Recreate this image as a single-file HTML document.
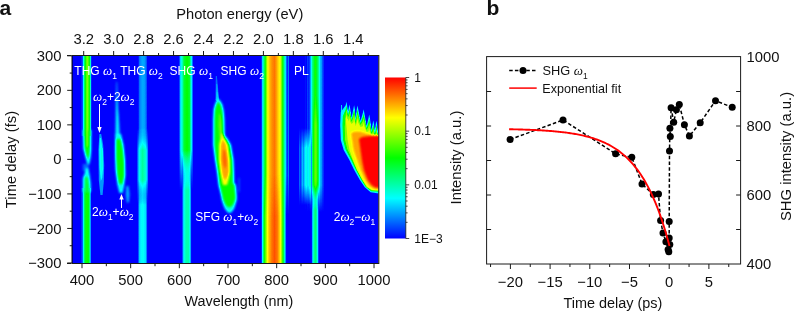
<!DOCTYPE html><html><head><meta charset="utf-8"><style>html,body{margin:0;padding:0;background:#fff;width:795px;height:312px;overflow:hidden}svg{display:block;will-change:transform}</style></head><body><svg width="795" height="312" viewBox="0 0 795 312">
<defs><linearGradient id="b800" gradientUnits="userSpaceOnUse" x1="260.8" y1="0" x2="289.5" y2="0"><stop offset="0.0000" stop-color="rgb(0,0,0)"/><stop offset="0.0314" stop-color="rgb(15,15,15)"/><stop offset="0.0662" stop-color="rgb(64,64,64)"/><stop offset="0.1568" stop-color="rgb(128,128,128)"/><stop offset="0.2439" stop-color="rgb(191,191,191)"/><stop offset="0.3171" stop-color="rgb(209,209,209)"/><stop offset="0.3868" stop-color="rgb(219,219,219)"/><stop offset="0.4774" stop-color="rgb(226,226,226)"/><stop offset="0.5470" stop-color="rgb(215,215,215)"/><stop offset="0.6098" stop-color="rgb(201,201,201)"/><stop offset="0.6725" stop-color="rgb(191,191,191)"/><stop offset="0.7631" stop-color="rgb(128,128,128)"/><stop offset="0.8537" stop-color="rgb(64,64,64)"/><stop offset="0.8955" stop-color="rgb(26,26,26)"/><stop offset="0.9233" stop-color="rgb(8,8,8)"/><stop offset="0.9443" stop-color="rgb(15,15,15)"/><stop offset="0.9617" stop-color="rgb(33,33,33)"/><stop offset="0.9791" stop-color="rgb(13,13,13)"/><stop offset="1.0000" stop-color="rgb(0,0,0)"/></linearGradient><linearGradient id="b800mg" gradientUnits="userSpaceOnUse" x1="0" y1="56" x2="0" y2="263"><stop offset="0.0000" stop-color="rgb(255,255,255)"/><stop offset="0.5749" stop-color="rgb(255,255,255)"/><stop offset="0.7681" stop-color="rgb(0,0,0)"/><stop offset="1.0000" stop-color="rgb(0,0,0)"/></linearGradient><mask id="b800m" maskUnits="userSpaceOnUse" x="255.8" y="51" width="38.69999999999999" height="217"><rect x="255.8" y="51" width="38.69999999999999" height="217" fill="url(#b800mg)"/></mask><linearGradient id="b800b" gradientUnits="userSpaceOnUse" x1="260.8" y1="0" x2="286.6" y2="0"><stop offset="0.0000" stop-color="rgb(0,0,0)"/><stop offset="0.0349" stop-color="rgb(15,15,15)"/><stop offset="0.0659" stop-color="rgb(64,64,64)"/><stop offset="0.1357" stop-color="rgb(128,128,128)"/><stop offset="0.2597" stop-color="rgb(191,191,191)"/><stop offset="0.3256" stop-color="rgb(209,209,209)"/><stop offset="0.4147" stop-color="rgb(224,224,224)"/><stop offset="0.5310" stop-color="rgb(235,235,235)"/><stop offset="0.6473" stop-color="rgb(224,224,224)"/><stop offset="0.7248" stop-color="rgb(204,204,204)"/><stop offset="0.7674" stop-color="rgb(191,191,191)"/><stop offset="0.8605" stop-color="rgb(128,128,128)"/><stop offset="0.9380" stop-color="rgb(64,64,64)"/><stop offset="0.9690" stop-color="rgb(20,20,20)"/><stop offset="1.0000" stop-color="rgb(0,0,0)"/></linearGradient><linearGradient id="thg1" gradientUnits="userSpaceOnUse" x1="81.2" y1="0" x2="91.8" y2="0"><stop offset="0.0000" stop-color="rgb(0,0,0)"/><stop offset="0.0566" stop-color="rgb(20,20,20)"/><stop offset="0.1038" stop-color="rgb(8,8,8)"/><stop offset="0.1604" stop-color="rgb(38,38,38)"/><stop offset="0.2264" stop-color="rgb(69,69,69)"/><stop offset="0.3396" stop-color="rgb(115,115,115)"/><stop offset="0.5660" stop-color="rgb(163,163,163)"/><stop offset="0.7642" stop-color="rgb(133,133,133)"/><stop offset="0.8679" stop-color="rgb(84,84,84)"/><stop offset="0.9528" stop-color="rgb(20,20,20)"/><stop offset="1.0000" stop-color="rgb(0,0,0)"/></linearGradient><linearGradient id="thg1b" gradientUnits="userSpaceOnUse" x1="81.2" y1="0" x2="91.4" y2="0"><stop offset="0.0000" stop-color="rgb(0,0,0)"/><stop offset="0.0588" stop-color="rgb(26,26,26)"/><stop offset="0.1078" stop-color="rgb(13,13,13)"/><stop offset="0.1667" stop-color="rgb(43,43,43)"/><stop offset="0.2353" stop-color="rgb(71,71,71)"/><stop offset="0.3529" stop-color="rgb(115,115,115)"/><stop offset="0.5490" stop-color="rgb(133,133,133)"/><stop offset="0.7647" stop-color="rgb(122,122,122)"/><stop offset="0.8627" stop-color="rgb(76,76,76)"/><stop offset="0.9412" stop-color="rgb(20,20,20)"/><stop offset="1.0000" stop-color="rgb(0,0,0)"/></linearGradient><linearGradient id="thg2" gradientUnits="userSpaceOnUse" x1="138.2" y1="0" x2="147.4" y2="0"><stop offset="0.0000" stop-color="rgb(0,0,0)"/><stop offset="0.1087" stop-color="rgb(26,26,26)"/><stop offset="0.3043" stop-color="rgb(38,38,38)"/><stop offset="0.5217" stop-color="rgb(43,43,43)"/><stop offset="0.7391" stop-color="rgb(38,38,38)"/><stop offset="0.9130" stop-color="rgb(20,20,20)"/><stop offset="1.0000" stop-color="rgb(0,0,0)"/></linearGradient><linearGradient id="thg2mg" gradientUnits="userSpaceOnUse" x1="0" y1="56" x2="0" y2="263"><stop offset="0.0000" stop-color="rgb(255,255,255)"/><stop offset="0.3575" stop-color="rgb(255,255,255)"/><stop offset="0.4541" stop-color="rgb(0,0,0)"/><stop offset="1.0000" stop-color="rgb(0,0,0)"/></linearGradient><mask id="thg2m" maskUnits="userSpaceOnUse" x="133.2" y="51" width="19.200000000000017" height="217"><rect x="133.2" y="51" width="19.200000000000017" height="217" fill="url(#thg2mg)"/></mask><linearGradient id="thg2c" gradientUnits="userSpaceOnUse" x1="136.8" y1="0" x2="148.6" y2="0"><stop offset="0.0000" stop-color="rgb(0,0,0)"/><stop offset="0.0847" stop-color="rgb(31,31,31)"/><stop offset="0.2288" stop-color="rgb(69,69,69)"/><stop offset="0.4831" stop-color="rgb(89,89,89)"/><stop offset="0.7373" stop-color="rgb(76,76,76)"/><stop offset="0.9068" stop-color="rgb(38,38,38)"/><stop offset="1.0000" stop-color="rgb(0,0,0)"/></linearGradient><linearGradient id="thg2cmg" gradientUnits="userSpaceOnUse" x1="0" y1="56" x2="0" y2="263"><stop offset="0.0000" stop-color="rgb(0,0,0)"/><stop offset="0.3478" stop-color="rgb(0,0,0)"/><stop offset="0.4541" stop-color="rgb(255,255,255)"/><stop offset="0.5990" stop-color="rgb(255,255,255)"/><stop offset="0.7198" stop-color="rgb(0,0,0)"/><stop offset="1.0000" stop-color="rgb(0,0,0)"/></linearGradient><mask id="thg2cm" maskUnits="userSpaceOnUse" x="131.8" y="51" width="21.799999999999983" height="217"><rect x="131.8" y="51" width="21.799999999999983" height="217" fill="url(#thg2cmg)"/></mask><linearGradient id="thg2b" gradientUnits="userSpaceOnUse" x1="137.8" y1="0" x2="147.6" y2="0"><stop offset="0.0000" stop-color="rgb(0,0,0)"/><stop offset="0.0816" stop-color="rgb(26,26,26)"/><stop offset="0.1837" stop-color="rgb(56,56,56)"/><stop offset="0.4796" stop-color="rgb(66,66,66)"/><stop offset="0.7959" stop-color="rgb(56,56,56)"/><stop offset="0.9184" stop-color="rgb(26,26,26)"/><stop offset="1.0000" stop-color="rgb(0,0,0)"/></linearGradient><linearGradient id="thg2bmg" gradientUnits="userSpaceOnUse" x1="0" y1="56" x2="0" y2="263"><stop offset="0.0000" stop-color="rgb(0,0,0)"/><stop offset="0.5990" stop-color="rgb(0,0,0)"/><stop offset="0.7198" stop-color="rgb(255,255,255)"/><stop offset="1.0000" stop-color="rgb(255,255,255)"/></linearGradient><mask id="thg2bm" maskUnits="userSpaceOnUse" x="132.8" y="51" width="19.799999999999983" height="217"><rect x="132.8" y="51" width="19.799999999999983" height="217" fill="url(#thg2bmg)"/></mask><linearGradient id="shg1" gradientUnits="userSpaceOnUse" x1="179" y1="0" x2="193.2" y2="0"><stop offset="0.0000" stop-color="rgb(0,0,0)"/><stop offset="0.0563" stop-color="rgb(31,31,31)"/><stop offset="0.1268" stop-color="rgb(64,64,64)"/><stop offset="0.2254" stop-color="rgb(76,76,76)"/><stop offset="0.3521" stop-color="rgb(115,115,115)"/><stop offset="0.5634" stop-color="rgb(128,128,128)"/><stop offset="0.7394" stop-color="rgb(117,117,117)"/><stop offset="0.8451" stop-color="rgb(76,76,76)"/><stop offset="0.9366" stop-color="rgb(38,38,38)"/><stop offset="1.0000" stop-color="rgb(0,0,0)"/></linearGradient><linearGradient id="shg1mg" gradientUnits="userSpaceOnUse" x1="0" y1="56" x2="0" y2="263"><stop offset="0.0000" stop-color="rgb(255,255,255)"/><stop offset="0.4541" stop-color="rgb(255,255,255)"/><stop offset="0.6473" stop-color="rgb(0,0,0)"/><stop offset="1.0000" stop-color="rgb(0,0,0)"/></linearGradient><mask id="shg1m" maskUnits="userSpaceOnUse" x="174" y="51" width="24.19999999999999" height="217"><rect x="174" y="51" width="24.19999999999999" height="217" fill="url(#shg1mg)"/></mask><linearGradient id="shg1b" gradientUnits="userSpaceOnUse" x1="182" y1="0" x2="191.6" y2="0"><stop offset="0.0000" stop-color="rgb(0,0,0)"/><stop offset="0.0833" stop-color="rgb(31,31,31)"/><stop offset="0.1875" stop-color="rgb(64,64,64)"/><stop offset="0.4167" stop-color="rgb(84,84,84)"/><stop offset="0.6771" stop-color="rgb(84,84,84)"/><stop offset="0.8333" stop-color="rgb(64,64,64)"/><stop offset="0.9271" stop-color="rgb(26,26,26)"/><stop offset="1.0000" stop-color="rgb(0,0,0)"/></linearGradient><linearGradient id="shg1bmg" gradientUnits="userSpaceOnUse" x1="0" y1="56" x2="0" y2="263"><stop offset="0.0000" stop-color="rgb(0,0,0)"/><stop offset="0.4541" stop-color="rgb(0,0,0)"/><stop offset="0.6473" stop-color="rgb(255,255,255)"/><stop offset="1.0000" stop-color="rgb(255,255,255)"/></linearGradient><mask id="shg1bm" maskUnits="userSpaceOnUse" x="177" y="51" width="19.599999999999994" height="217"><rect x="177" y="51" width="19.599999999999994" height="217" fill="url(#shg1bmg)"/></mask><linearGradient id="pl" gradientUnits="userSpaceOnUse" x1="304.6" y1="0" x2="324.2" y2="0"><stop offset="0.0000" stop-color="rgb(0,0,0)"/><stop offset="0.0255" stop-color="rgb(20,20,20)"/><stop offset="0.0510" stop-color="rgb(0,0,0)"/><stop offset="0.1327" stop-color="rgb(0,0,0)"/><stop offset="0.1531" stop-color="rgb(20,20,20)"/><stop offset="0.1735" stop-color="rgb(8,8,8)"/><stop offset="0.2347" stop-color="rgb(8,8,8)"/><stop offset="0.2806" stop-color="rgb(31,31,31)"/><stop offset="0.3418" stop-color="rgb(56,56,56)"/><stop offset="0.3980" stop-color="rgb(92,92,92)"/><stop offset="0.5510" stop-color="rgb(133,133,133)"/><stop offset="0.6837" stop-color="rgb(102,102,102)"/><stop offset="0.7500" stop-color="rgb(71,71,71)"/><stop offset="0.8112" stop-color="rgb(46,46,46)"/><stop offset="0.8878" stop-color="rgb(36,36,36)"/><stop offset="0.9286" stop-color="rgb(13,13,13)"/><stop offset="0.9541" stop-color="rgb(5,5,5)"/><stop offset="0.9745" stop-color="rgb(20,20,20)"/><stop offset="1.0000" stop-color="rgb(0,0,0)"/></linearGradient><linearGradient id="plm1g" gradientUnits="userSpaceOnUse" x1="0" y1="56" x2="0" y2="263"><stop offset="0.0000" stop-color="rgb(255,255,255)"/><stop offset="0.6232" stop-color="rgb(255,255,255)"/><stop offset="0.7536" stop-color="rgb(0,0,0)"/><stop offset="1.0000" stop-color="rgb(0,0,0)"/></linearGradient><mask id="plm1" maskUnits="userSpaceOnUse" x="299.6" y="51" width="29.599999999999966" height="217"><rect x="299.6" y="51" width="29.599999999999966" height="217" fill="url(#plm1g)"/></mask><linearGradient id="plc" gradientUnits="userSpaceOnUse" x1="312" y1="0" x2="319.5" y2="0"><stop offset="0" stop-color="rgb(153,153,153)" stop-opacity="0"/><stop offset="0.5" stop-color="rgb(153,153,153)" stop-opacity="1"/><stop offset="1" stop-color="rgb(153,153,153)" stop-opacity="0"/></linearGradient><linearGradient id="plcmg" gradientUnits="userSpaceOnUse" x1="0" y1="56" x2="0" y2="263"><stop offset="0.0000" stop-color="rgb(0,0,0)"/><stop offset="0.1884" stop-color="rgb(0,0,0)"/><stop offset="0.3333" stop-color="rgb(255,255,255)"/><stop offset="0.5990" stop-color="rgb(255,255,255)"/><stop offset="0.6957" stop-color="rgb(0,0,0)"/><stop offset="1.0000" stop-color="rgb(0,0,0)"/></linearGradient><mask id="plcm" maskUnits="userSpaceOnUse" x="307" y="51" width="17.5" height="217"><rect x="307" y="51" width="17.5" height="217" fill="url(#plcmg)"/></mask><linearGradient id="plw" gradientUnits="userSpaceOnUse" x1="298.5" y1="0" x2="311.8" y2="0"><stop offset="0.0000" stop-color="rgb(0,0,0)"/><stop offset="0.0752" stop-color="rgb(26,26,26)"/><stop offset="0.1729" stop-color="rgb(10,10,10)"/><stop offset="0.2782" stop-color="rgb(51,51,51)"/><stop offset="0.3684" stop-color="rgb(33,33,33)"/><stop offset="0.4887" stop-color="rgb(59,59,59)"/><stop offset="0.6015" stop-color="rgb(69,69,69)"/><stop offset="0.7068" stop-color="rgb(54,54,54)"/><stop offset="0.8045" stop-color="rgb(71,71,71)"/><stop offset="0.8947" stop-color="rgb(76,76,76)"/><stop offset="0.9549" stop-color="rgb(64,64,64)"/><stop offset="1.0000" stop-color="rgb(0,0,0)"/></linearGradient><linearGradient id="plwmg" gradientUnits="userSpaceOnUse" x1="0" y1="56" x2="0" y2="263"><stop offset="0.0000" stop-color="rgb(0,0,0)"/><stop offset="0.3478" stop-color="rgb(0,0,0)"/><stop offset="0.4444" stop-color="rgb(255,255,255)"/><stop offset="0.6232" stop-color="rgb(255,255,255)"/><stop offset="0.7198" stop-color="rgb(0,0,0)"/><stop offset="1.0000" stop-color="rgb(0,0,0)"/></linearGradient><mask id="plwm" maskUnits="userSpaceOnUse" x="293.5" y="51" width="23.30000000000001" height="217"><rect x="293.5" y="51" width="23.30000000000001" height="217" fill="url(#plwmg)"/></mask><linearGradient id="plb" gradientUnits="userSpaceOnUse" x1="311.4" y1="0" x2="318.9" y2="0"><stop offset="0.0000" stop-color="rgb(0,0,0)"/><stop offset="0.1067" stop-color="rgb(38,38,38)"/><stop offset="0.2800" stop-color="rgb(76,76,76)"/><stop offset="0.5067" stop-color="rgb(102,102,102)"/><stop offset="0.7467" stop-color="rgb(82,82,82)"/><stop offset="0.9067" stop-color="rgb(31,31,31)"/><stop offset="1.0000" stop-color="rgb(0,0,0)"/></linearGradient><linearGradient id="plbmg" gradientUnits="userSpaceOnUse" x1="0" y1="56" x2="0" y2="263"><stop offset="0.0000" stop-color="rgb(0,0,0)"/><stop offset="0.6232" stop-color="rgb(0,0,0)"/><stop offset="0.7440" stop-color="rgb(255,255,255)"/><stop offset="1.0000" stop-color="rgb(255,255,255)"/></linearGradient><mask id="plbm" maskUnits="userSpaceOnUse" x="306.4" y="51" width="17.5" height="217"><rect x="306.4" y="51" width="17.5" height="217" fill="url(#plbmg)"/></mask><filter id="jet" x="0" y="0" width="1" height="1" color-interpolation-filters="sRGB"><feComponentTransfer><feFuncR type="table" tableValues="0 0 0 1 1"/><feFuncG type="table" tableValues="0 1 1 1 0"/><feFuncB type="table" tableValues="1 1 0 0 0"/></feComponentTransfer></filter><filter id="bl0_6" x="-50%" y="-50%" width="200%" height="200%" color-interpolation-filters="sRGB"><feGaussianBlur stdDeviation="0.6"/></filter><filter id="bl0_7" x="-50%" y="-50%" width="200%" height="200%" color-interpolation-filters="sRGB"><feGaussianBlur stdDeviation="0.7"/></filter><filter id="bl0_8" x="-50%" y="-50%" width="200%" height="200%" color-interpolation-filters="sRGB"><feGaussianBlur stdDeviation="0.8"/></filter><filter id="bl0_9" x="-50%" y="-50%" width="200%" height="200%" color-interpolation-filters="sRGB"><feGaussianBlur stdDeviation="0.9"/></filter><filter id="bl1_0" x="-50%" y="-50%" width="200%" height="200%" color-interpolation-filters="sRGB"><feGaussianBlur stdDeviation="1.0"/></filter><filter id="bl1_5" x="-50%" y="-50%" width="200%" height="200%" color-interpolation-filters="sRGB"><feGaussianBlur stdDeviation="1.5"/></filter><filter id="bl2" x="-50%" y="-50%" width="200%" height="200%" color-interpolation-filters="sRGB"><feGaussianBlur stdDeviation="2"/></filter><filter id="bl3" x="-50%" y="-50%" width="200%" height="200%" color-interpolation-filters="sRGB"><feGaussianBlur stdDeviation="3"/></filter><clipPath id="hc"><rect x="72" y="56" width="306.6" height="207"/></clipPath></defs>
<rect width="795" height="312" fill="#fff"/>
<g clip-path="url(#hc)"><g filter="url(#jet)">
<rect x="72" y="56" width="306.6" height="207" fill="#000"/>
<rect x="260.8" y="56" width="25.80" height="207.00" fill="url(#b800b)"/><rect x="260.8" y="56" width="28.70" height="207.00" fill="url(#b800)" mask="url(#b800m)"/><rect x="81.2" y="56" width="10.60" height="80.00" fill="url(#thg1)"/><rect x="81.2" y="188" width="10.20" height="75.00" fill="url(#thg1b)"/><g filter="url(#bl0_8)"><path d="M82.9,130.0 L91.3,130.0 L91.2,150.0 L90.7,157.0 L89.9,162.0 L88.4,166.0 L87.0,163.0 L85.5,157.0 L83.5,149.0 Z" fill="rgb(69,69,69)"/><path d="M84.6,130.0 L89.8,130.0 L89.7,150.0 L89.1,156.0 L88.0,159.0 L86.4,155.0 L84.7,148.0 Z" fill="rgb(128,128,128)"/><path d="M85.4,130.0 L88.8,130.0 L88.6,147.0 L86.2,147.0 Z" fill="rgb(158,158,158)"/><path d="M82.8,164.0 L88.5,164.0 L88.8,171.0 L82.8,171.0 Z" fill="rgb(26,26,26)"/><path d="M86.0,168.0 L88.2,168.0 L89.8,176.0 L90.7,184.0 L90.8,192.0 L82.9,192.0 L82.9,178.0 L84.5,174.0 Z" fill="rgb(69,69,69)"/><path d="M85.0,177.0 L87.8,177.0 L89.1,186.0 L89.1,193.0 L84.6,193.0 Z" fill="rgb(115,115,115)"/></g><g filter="url(#bl0_7)"><path d="M99.4,134.0 L101.2,134.0 L103.2,145.0 L104.2,165.0 L103.8,182.0 L102.6,195.0 L100.4,195.0 L98.8,180.0 L98.4,150.0 Z" fill="rgb(38,38,38)"/><path d="M99.8,138.0 L101.0,138.0 L102.9,152.0 L103.2,168.0 L102.2,178.0 L100.8,181.0 L99.6,168.0 L99.2,150.0 Z" fill="rgb(64,64,64)"/><path d="M101.2,148.0 L102.4,148.0 L102.6,165.0 L101.6,172.0 L101.2,160.0 Z" fill="rgb(74,74,74)"/></g><g filter="url(#bl0_8)"><path d="M116.2,82.0 L117.2,82.0 L118.2,110.0 L120.5,136.0 L115.2,136.0 L115.6,110.0 Z" fill="rgb(36,36,36)"/><path d="M116.5,96.0 L117.3,96.0 L118.6,120.0 L118.6,136.0 L115.8,136.0 L116.2,118.0 Z" fill="rgb(64,64,64)"/><path d="M115.3,134.0 L121.0,134.0 L123.5,145.0 L125.0,160.0 L125.4,175.0 L124.0,186.0 L122.5,193.0 L119.5,193.0 L117.5,185.0 L115.6,170.0 L115.2,150.0 Z" fill="rgb(69,69,69)"/><path d="M116.3,139.0 L120.5,139.0 L122.8,150.0 L124.0,163.0 L124.0,176.0 L122.3,184.0 L119.2,184.0 L117.4,175.0 L116.2,158.0 Z" fill="rgb(128,128,128)"/><path d="M126.2,186.0 L128.6,186.0 L129.6,194.0 L129.0,202.0 L127.0,203.0 L125.8,195.0 Z" fill="rgb(43,43,43)"/></g><rect x="138.2" y="56" width="9.20" height="99.00" fill="url(#thg2)" mask="url(#thg2m)"/><rect x="136.8" y="125" width="11.80" height="85.00" fill="url(#thg2c)" mask="url(#thg2cm)"/><rect x="137.8" y="175" width="9.80" height="88.00" fill="url(#thg2b)" mask="url(#thg2bm)"/><rect x="179" y="56" width="14.20" height="139.00" fill="url(#shg1)" mask="url(#shg1m)"/><rect x="182" y="145" width="9.60" height="118.00" fill="url(#shg1b)" mask="url(#shg1bm)"/><g filter="url(#bl0_6)"><path d="M215.8,76.0 L216.9,76.0 L219.2,100.0 L215.4,100.0 Z" fill="rgb(26,26,26)"/><path d="M216.3,84.0 L217.2,84.0 L218.9,100.0 L215.9,100.0 Z" fill="rgb(41,41,41)"/><path d="M216.6,92.0 L217.6,92.0 L218.8,101.0 L216.2,101.0 Z" fill="rgb(51,51,51)"/></g><g filter="url(#bl0_9)"><path d="M238.6,178.0 L239.6,178.0 L239.6,192.0 L238.6,192.0 Z" fill="rgb(31,31,31)"/><path d="M217.6,98.5 L215.2,103.5 L213.7,109.0 L213.2,120.0 L213.2,145.0 L215.1,160.0 L217.0,172.0 L218.5,185.0 L220.9,195.0 L221.8,200.0 L223.3,205.0 L225.0,209.0 L228.0,212.8 L231.0,212.8 L234.0,209.0 L235.3,205.0 L236.7,200.0 L236.7,195.0 L235.8,185.0 L234.2,183.0 L234.0,172.0 L233.5,160.0 L231.0,145.0 L227.5,138.5 L224.8,135.5 L224.5,120.0 L223.8,111.0 L222.4,104.5 L219.8,100.0 Z" fill="rgb(69,69,69)"/><path d="M217.8,102.0 L216.2,106.0 L214.9,111.0 L214.6,120.0 L214.6,145.0 L216.3,160.0 L218.2,172.0 L219.8,185.0 L222.3,195.0 L223.2,199.0 L224.8,203.0 L227.0,206.5 L229.5,207.5 L232.0,206.0 L233.8,203.0 L235.2,199.0 L235.2,195.0 L234.3,185.0 L232.8,183.0 L232.6,172.0 L232.1,160.0 L229.6,145.0 L226.2,139.5 L223.2,136.5 L223.0,120.0 L222.2,111.0 L221.0,106.0 L219.4,103.0 Z" fill="rgb(128,128,128)"/><path d="M219.2,114.0 L220.6,114.0 L222.0,125.0 L223.0,137.0 L219.6,137.0 L218.6,125.0 Z" fill="rgb(153,153,153)"/><path d="M221.5,133.0 L220.0,140.0 L219.0,145.0 L219.0,160.0 L220.3,172.0 L221.8,180.0 L223.0,185.0 L227.0,185.0 L228.5,180.0 L230.0,172.0 L230.0,160.0 L228.0,145.0 L225.0,139.0 L223.0,134.0 Z" fill="rgb(191,191,191)"/><path d="M222.5,140.0 L221.0,145.0 L220.5,160.0 L222.0,172.0 L223.5,178.0 L225.5,180.0 L228.0,176.0 L229.0,172.0 L228.0,160.0 L226.0,145.0 L224.0,141.0 Z" fill="rgb(214,214,214)"/><path d="M223.2,150.0 L225.2,150.0 L226.6,158.0 L226.6,166.0 L225.0,169.0 L223.2,164.0 L222.6,157.0 Z" fill="rgb(230,230,230)"/></g><rect x="304.6" y="56" width="19.60" height="159.00" fill="url(#pl)" mask="url(#plm1)"/><rect x="312" y="90" width="7.50" height="115.00" fill="url(#plc)" mask="url(#plcm)"/><rect x="298.5" y="125" width="13.30" height="85.00" fill="url(#plw)" mask="url(#plwm)"/><rect x="311.4" y="180" width="7.50" height="83.00" fill="url(#plb)" mask="url(#plbm)"/><g filter="url(#bl0_5)"><path d="M341.0,105.0 L342.0,105.0 L342.8,128.0 L340.8,128.0 Z" fill="rgb(51,51,51)"/><path d="M340.8,112.0 L345.7,105.3 L346.4,101.8 L347.1,105.3 L348.0,113.0 L348.7,108.1 L349.4,104.6 L350.1,108.1 L351.6,118.0 L353.4,108.8 L354.1,105.3 L354.8,108.8 L355.7,120.0 L356.8,108.9 L357.5,105.4 L358.2,108.9 L360.5,121.0 L362.9,112.7 L363.6,109.2 L364.3,112.7 L366.6,126.0 L368.5,118.1 L369.2,114.6 L369.9,118.1 L371.4,130.0 L372.6,124.0 L373.3,120.5 L374.0,124.0 L375.0,134.0 L375.7,124.3 L376.4,120.8 L377.1,124.3 L377.8,135.0 L382.0,135.0 L382.0,193.8 L370.6,192.2 L364.8,187.2 L360.0,180.2 L354.2,170.0 L349.4,160.0 L343.7,150.0 L340.8,140.0 L340.2,125.0 Z" fill="rgb(61,61,61)"/><path d="M342.8,116.0 L345.7,109.3 L346.4,105.8 L347.1,109.3 L348.0,115.0 L348.7,112.1 L349.4,108.6 L350.1,112.1 L351.6,120.0 L353.4,112.8 L354.1,109.3 L354.8,112.8 L355.7,122.0 L356.8,112.9 L357.5,109.4 L358.2,112.9 L360.5,123.0 L362.9,116.7 L363.6,113.2 L364.3,116.7 L366.6,128.0 L368.5,122.1 L369.2,118.6 L369.9,122.1 L371.4,132.0 L372.6,128.0 L373.3,124.5 L374.0,128.0 L375.0,136.0 L375.7,128.3 L376.4,124.8 L377.1,128.3 L377.8,137.0 L382.0,137.0 L382.0,192.0 L371.0,191.2 L365.5,186.8 L361.0,179.5 L355.6,169.5 L350.8,159.5 L345.5,149.5 L343.0,140.0 L342.4,125.0 Z" fill="rgb(122,122,122)"/><path d="M345.0,122.0 L345.7,113.3 L346.4,109.8 L347.1,113.3 L348.0,117.0 L348.7,116.1 L349.4,112.6 L350.1,116.1 L351.6,122.0 L353.4,116.8 L354.1,113.3 L354.8,116.8 L355.7,124.0 L356.8,116.9 L357.5,113.4 L358.2,116.9 L360.5,125.0 L362.9,120.7 L363.6,117.2 L364.3,120.7 L366.6,130.0 L368.5,126.1 L369.2,122.6 L369.9,126.1 L371.4,134.0 L372.6,132.0 L373.3,128.5 L374.0,132.0 L375.0,138.0 L375.7,132.3 L376.4,128.8 L377.1,132.3 L377.8,139.0 L382.0,139.0 L382.0,191.0 L371.5,190.5 L366.2,186.5 L361.8,179.0 L356.5,169.0 L352.0,159.0 L347.2,149.0 L345.0,140.0 L344.6,127.0 Z" fill="rgb(161,161,161)"/><path d="M346.4,126.0 L345.7,118.8 L346.4,114.8 L347.1,118.8 L348.0,119.0 L348.7,121.6 L349.4,117.6 L350.1,121.6 L351.6,124.0 L353.4,122.3 L354.1,118.3 L354.8,122.3 L355.7,126.0 L356.8,122.4 L357.5,118.4 L358.2,122.4 L360.5,127.0 L362.9,126.2 L363.6,122.2 L364.3,126.2 L366.6,132.0 L368.5,131.6 L369.2,127.6 L369.9,131.6 L371.4,136.0 L372.6,137.5 L373.3,133.5 L374.0,137.5 L375.0,140.0 L375.7,137.8 L376.4,133.8 L377.1,137.8 L377.8,141.0 L382.0,141.0 L382.0,190.5 L372.0,190.0 L367.0,187.0 L362.5,180.0 L357.0,170.0 L353.0,160.0 L349.5,150.0 L347.6,140.0 Z" fill="rgb(186,186,186)"/></g><g filter="url(#bl0_8)"><path d="M351.0,133.0 L355.0,131.5 L360.0,131.5 L366.0,133.5 L371.0,135.0 L382.0,135.0 L382.0,189.5 L374.0,189.0 L369.0,186.0 L365.0,180.0 L360.5,170.0 L357.0,160.0 L353.5,150.0 L352.0,140.0 Z" fill="rgb(214,214,214)"/><path d="M359.0,139.0 L362.0,137.0 L370.0,136.0 L382.0,135.8 L382.0,188.0 L375.0,187.5 L371.5,185.0 L367.7,180.0 L363.8,170.0 L361.9,160.0 L360.5,150.0 Z" fill="rgb(255,255,255)"/></g>
</g></g>
<g stroke="#1a1a1a" stroke-width="1" fill="none">
<line x1="67" y1="55.5" x2="379" y2="55.5"/>
<line x1="67" y1="263.5" x2="379" y2="263.5"/>
<line x1="71.5" y1="55" x2="71.5" y2="264" stroke="#888"/><line x1="72.5" y1="56" x2="72.5" y2="263" stroke="#000" stroke-opacity="0.6"/>
<line x1="378.8" y1="55" x2="378.8" y2="264" stroke-width="1.1"/>
<line x1="83.70" y1="55.5" x2="83.70" y2="51"/>
<line x1="98.67" y1="55.5" x2="98.67" y2="53"/>
<line x1="113.65" y1="55.5" x2="113.65" y2="51"/>
<line x1="128.62" y1="55.5" x2="128.62" y2="53"/>
<line x1="143.60" y1="55.5" x2="143.60" y2="51"/>
<line x1="158.57" y1="55.5" x2="158.57" y2="53"/>
<line x1="173.55" y1="55.5" x2="173.55" y2="51"/>
<line x1="188.52" y1="55.5" x2="188.52" y2="53"/>
<line x1="203.50" y1="55.5" x2="203.50" y2="51"/>
<line x1="218.47" y1="55.5" x2="218.47" y2="53"/>
<line x1="233.45" y1="55.5" x2="233.45" y2="51"/>
<line x1="248.42" y1="55.5" x2="248.42" y2="53"/>
<line x1="263.40" y1="55.5" x2="263.40" y2="51"/>
<line x1="278.37" y1="55.5" x2="278.37" y2="53"/>
<line x1="293.35" y1="55.5" x2="293.35" y2="51"/>
<line x1="308.32" y1="55.5" x2="308.32" y2="53"/>
<line x1="323.30" y1="55.5" x2="323.30" y2="51"/>
<line x1="338.27" y1="55.5" x2="338.27" y2="53"/>
<line x1="353.25" y1="55.5" x2="353.25" y2="51"/>
<line x1="368.22" y1="55.5" x2="368.22" y2="53"/>
<line x1="67.2" y1="55.80" x2="72" y2="55.80"/>
<line x1="69.7" y1="73.07" x2="72" y2="73.07"/>
<line x1="67.2" y1="90.33" x2="72" y2="90.33"/>
<line x1="69.7" y1="107.60" x2="72" y2="107.60"/>
<line x1="67.2" y1="124.86" x2="72" y2="124.86"/>
<line x1="69.7" y1="142.13" x2="72" y2="142.13"/>
<line x1="67.2" y1="159.39" x2="72" y2="159.39"/>
<line x1="69.7" y1="176.66" x2="72" y2="176.66"/>
<line x1="67.2" y1="193.92" x2="72" y2="193.92"/>
<line x1="69.7" y1="211.19" x2="72" y2="211.19"/>
<line x1="67.2" y1="228.45" x2="72" y2="228.45"/>
<line x1="69.7" y1="245.72" x2="72" y2="245.72"/>
<line x1="67.2" y1="262.98" x2="72" y2="262.98"/>
<line x1="82.00" y1="263.5" x2="82.00" y2="268.2"/>
<line x1="106.33" y1="263.5" x2="106.33" y2="266.2"/>
<line x1="130.67" y1="263.5" x2="130.67" y2="268.2"/>
<line x1="155.00" y1="263.5" x2="155.00" y2="266.2"/>
<line x1="179.34" y1="263.5" x2="179.34" y2="268.2"/>
<line x1="203.67" y1="263.5" x2="203.67" y2="266.2"/>
<line x1="228.01" y1="263.5" x2="228.01" y2="268.2"/>
<line x1="252.34" y1="263.5" x2="252.34" y2="266.2"/>
<line x1="276.68" y1="263.5" x2="276.68" y2="268.2"/>
<line x1="301.01" y1="263.5" x2="301.01" y2="266.2"/>
<line x1="325.35" y1="263.5" x2="325.35" y2="268.2"/>
<line x1="349.68" y1="263.5" x2="349.68" y2="266.2"/>
<line x1="374.02" y1="263.5" x2="374.02" y2="268.2"/>
</g>
<g font-family="Liberation Sans, sans-serif" font-size="14.8" fill="#111">
<text x="-0.6" y="15.2" font-weight="bold" font-size="21">a</text>
<text x="176.3" y="19.4" font-size="14.65">Photon energy (eV)</text>
<text x="83.70" y="44" text-anchor="middle">3.2</text>
<text x="113.65" y="44" text-anchor="middle">3.0</text>
<text x="143.60" y="44" text-anchor="middle">2.8</text>
<text x="173.55" y="44" text-anchor="middle">2.6</text>
<text x="203.50" y="44" text-anchor="middle">2.4</text>
<text x="233.45" y="44" text-anchor="middle">2.2</text>
<text x="263.40" y="44" text-anchor="middle">2.0</text>
<text x="293.35" y="44" text-anchor="middle">1.8</text>
<text x="323.30" y="44" text-anchor="middle">1.6</text>
<text x="353.25" y="44" text-anchor="middle">1.4</text>
<text x="61.5" y="60.90" text-anchor="end">300</text>
<text x="61.5" y="95.43" text-anchor="end">200</text>
<text x="61.5" y="129.96" text-anchor="end">100</text>
<text x="61.5" y="164.49" text-anchor="end">0</text>
<text x="61.5" y="199.02" text-anchor="end">−100</text>
<text x="61.5" y="233.55" text-anchor="end">−200</text>
<text x="61.5" y="268.08" text-anchor="end">−300</text>
<text transform="translate(15.6,159.5) rotate(-90)" text-anchor="middle">Time delay (fs)</text>
<text x="82.00" y="284.8" text-anchor="middle">400</text>
<text x="130.67" y="284.8" text-anchor="middle">500</text>
<text x="179.34" y="284.8" text-anchor="middle">600</text>
<text x="228.01" y="284.8" text-anchor="middle">700</text>
<text x="276.68" y="284.8" text-anchor="middle">800</text>
<text x="325.35" y="284.8" text-anchor="middle">900</text>
<text x="374.02" y="284.8" text-anchor="middle">1000</text>
<text x="184.6" y="306.2" font-size="14.35">Wavelength (nm)</text>
</g>
<g font-family="Liberation Sans, sans-serif" font-size="12" fill="#fff">
<text x="74.3" y="74.6">THG <tspan font-family="Liberation Serif, serif" font-style="italic" font-size="13">ω</tspan><tspan font-size="8.5" dy="4">1</tspan></text>
<text x="120.2" y="74.6">THG <tspan font-family="Liberation Serif, serif" font-style="italic" font-size="13">ω</tspan><tspan font-size="8.5" dy="4">2</tspan></text>
<text x="169.6" y="74.6">SHG <tspan font-family="Liberation Serif, serif" font-style="italic" font-size="13">ω</tspan><tspan font-size="8.5" dy="4">1</tspan></text>
<text x="220.6" y="74.6">SHG <tspan font-family="Liberation Serif, serif" font-style="italic" font-size="13">ω</tspan><tspan font-size="8.5" dy="4">2</tspan></text>
<text x="294" y="74.5">PL</text>
<text x="93" y="100.8"><tspan font-family="Liberation Serif, serif" font-style="italic" font-size="13">ω</tspan><tspan font-size="8.5" dy="4">2</tspan><tspan dy="-4">+2</tspan><tspan font-family="Liberation Serif, serif" font-style="italic" font-size="13">ω</tspan><tspan font-size="8.5" dy="4">2</tspan></text>
<text x="92" y="215.6">2<tspan font-family="Liberation Serif, serif" font-style="italic" font-size="13">ω</tspan><tspan font-size="8.5" dy="4">1</tspan><tspan dy="-4">+</tspan><tspan font-family="Liberation Serif, serif" font-style="italic" font-size="13">ω</tspan><tspan font-size="8.5" dy="4">2</tspan></text>
<text x="195.3" y="221.4">SFG <tspan font-family="Liberation Serif, serif" font-style="italic" font-size="13">ω</tspan><tspan font-size="8.5" dy="4">1</tspan><tspan dy="-4">+</tspan><tspan font-family="Liberation Serif, serif" font-style="italic" font-size="13">ω</tspan><tspan font-size="8.5" dy="4">2</tspan></text>
<text x="333.7" y="221.4">2<tspan font-family="Liberation Serif, serif" font-style="italic" font-size="13">ω</tspan><tspan font-size="8.5" dy="4">2</tspan><tspan dy="-4">−</tspan><tspan font-family="Liberation Serif, serif" font-style="italic" font-size="13">ω</tspan><tspan font-size="8.5" dy="4">1</tspan></text>
</g>
<g stroke="#fff" stroke-width="1" fill="#fff">
<line x1="99.5" y1="104" x2="99.5" y2="129"/><path d="M97.3,127 L101.7,127 L99.5,133 Z" stroke="none"/>
<line x1="121.5" y1="208" x2="121.5" y2="198"/><path d="M119.3,199.5 L123.7,199.5 L121.5,194 Z" stroke="none"/>
</g>
<defs><linearGradient id="cb" x1="0" y1="1" x2="0" y2="0"><stop offset="0" stop-color="#0000ff"/><stop offset="0.25" stop-color="#00ffff"/><stop offset="0.5" stop-color="#00ff00"/><stop offset="0.75" stop-color="#ffff00"/><stop offset="1" stop-color="#ff0000"/></linearGradient></defs>
<rect x="385" y="77.5" width="20.8" height="161.0" fill="url(#cb)"/>
<g stroke="#1a1a1a" stroke-width="0.8">
<line x1="405.8" y1="77.5" x2="405.8" y2="238.5"/>
<line x1="405.8" y1="77.50" x2="409.2" y2="77.50"/>
<line x1="405.8" y1="131.17" x2="409.2" y2="131.17"/>
<line x1="405.8" y1="184.83" x2="409.2" y2="184.83"/>
<line x1="405.8" y1="238.50" x2="409.2" y2="238.50"/>
<line x1="405.8" y1="115.01" x2="407.6" y2="115.01"/>
<line x1="405.8" y1="105.56" x2="407.6" y2="105.56"/>
<line x1="405.8" y1="98.86" x2="407.6" y2="98.86"/>
<line x1="405.8" y1="93.66" x2="407.6" y2="93.66"/>
<line x1="405.8" y1="89.41" x2="407.6" y2="89.41"/>
<line x1="405.8" y1="85.81" x2="407.6" y2="85.81"/>
<line x1="405.8" y1="82.70" x2="407.6" y2="82.70"/>
<line x1="405.8" y1="79.96" x2="407.6" y2="79.96"/>
<line x1="405.8" y1="168.68" x2="407.6" y2="168.68"/>
<line x1="405.8" y1="159.23" x2="407.6" y2="159.23"/>
<line x1="405.8" y1="152.52" x2="407.6" y2="152.52"/>
<line x1="405.8" y1="147.32" x2="407.6" y2="147.32"/>
<line x1="405.8" y1="143.07" x2="407.6" y2="143.07"/>
<line x1="405.8" y1="139.48" x2="407.6" y2="139.48"/>
<line x1="405.8" y1="136.37" x2="407.6" y2="136.37"/>
<line x1="405.8" y1="133.62" x2="407.6" y2="133.62"/>
<line x1="405.8" y1="222.34" x2="407.6" y2="222.34"/>
<line x1="405.8" y1="212.89" x2="407.6" y2="212.89"/>
<line x1="405.8" y1="206.19" x2="407.6" y2="206.19"/>
<line x1="405.8" y1="200.99" x2="407.6" y2="200.99"/>
<line x1="405.8" y1="196.74" x2="407.6" y2="196.74"/>
<line x1="405.8" y1="193.15" x2="407.6" y2="193.15"/>
<line x1="405.8" y1="190.03" x2="407.6" y2="190.03"/>
<line x1="405.8" y1="187.29" x2="407.6" y2="187.29"/>
</g>
<g font-family="Liberation Sans, sans-serif" font-size="12" fill="#111">
<text x="414.3" y="81.60">1</text>
<text x="414.3" y="135.27">0.1</text>
<text x="414.3" y="188.93">0.01</text>
<text x="414.3" y="242.60">1E−3</text>
</g>
<rect x="486.6" y="56.6" width="254.0" height="207.4" fill="none" stroke="#1a1a1a" stroke-width="1"/>
<g stroke="#1a1a1a" stroke-width="1">
<line x1="486.6" y1="91.5" x2="491.1" y2="91.5"/>
<line x1="740.6" y1="91.5" x2="736.1" y2="91.5"/>
<line x1="486.6" y1="126.0" x2="491.1" y2="126.0"/>
<line x1="740.6" y1="126.0" x2="736.1" y2="126.0"/>
<line x1="486.6" y1="160.5" x2="491.1" y2="160.5"/>
<line x1="740.6" y1="160.5" x2="736.1" y2="160.5"/>
<line x1="486.6" y1="195.0" x2="491.1" y2="195.0"/>
<line x1="740.6" y1="195.0" x2="736.1" y2="195.0"/>
<line x1="486.6" y1="229.5" x2="491.1" y2="229.5"/>
<line x1="740.6" y1="229.5" x2="736.1" y2="229.5"/>
<line x1="510.40" y1="264" x2="510.40" y2="269"/>
<line x1="550.10" y1="264" x2="550.10" y2="269"/>
<line x1="589.80" y1="264" x2="589.80" y2="269"/>
<line x1="629.50" y1="264" x2="629.50" y2="269"/>
<line x1="669.20" y1="264" x2="669.20" y2="269"/>
<line x1="708.90" y1="264" x2="708.90" y2="269"/>
<line x1="490.55" y1="264" x2="490.55" y2="267"/>
<line x1="530.25" y1="264" x2="530.25" y2="267"/>
<line x1="569.95" y1="264" x2="569.95" y2="267"/>
<line x1="609.65" y1="264" x2="609.65" y2="267"/>
<line x1="649.35" y1="264" x2="649.35" y2="267"/>
<line x1="689.05" y1="264" x2="689.05" y2="267"/>
<line x1="728.75" y1="264" x2="728.75" y2="267"/>
</g>
<g font-family="Liberation Sans, sans-serif" font-size="14.8" fill="#111">
<text x="486.5" y="15.2" font-weight="bold" font-size="21">b</text>
<text x="510.40" y="286.6" text-anchor="middle">−20</text>
<text x="550.10" y="286.6" text-anchor="middle">−15</text>
<text x="589.80" y="286.6" text-anchor="middle">−10</text>
<text x="629.50" y="286.6" text-anchor="middle">−5</text>
<text x="669.20" y="286.6" text-anchor="middle">0</text>
<text x="708.90" y="286.6" text-anchor="middle">5</text>
<text x="563.4" y="308.4" font-size="14.45">Time delay (ps)</text>
<text x="746.5" y="61.70">1000</text>
<text x="746.5" y="130.80">800</text>
<text x="746.5" y="199.90">600</text>
<text x="746.5" y="268.60">400</text>
<text transform="translate(461.3,157.5) rotate(-90)" text-anchor="middle">Intensity (a.u.)</text>
<text transform="translate(791,156.5) rotate(-90)" text-anchor="middle">SHG intensity (a.u.)</text>
</g>
<g font-family="Liberation Sans, sans-serif" font-size="12.8" fill="#111">
<text x="542.4" y="74.8">SHG <tspan font-family="Liberation Serif, serif" font-style="italic" font-size="13">ω</tspan><tspan font-size="8.5" dy="3.8">1</tspan></text>
<text x="542.3" y="92.6" font-size="12.55">Exponential fit</text>
</g>
<line x1="509.2" y1="70.6" x2="536.7" y2="70.6" stroke="#000" stroke-width="1.5" stroke-dasharray="3.5,2.2"/>
<circle cx="523" cy="70.6" r="3.5" fill="#000"/>
<line x1="509.2" y1="88.1" x2="536.7" y2="88.1" stroke="#f00" stroke-width="1.5"/>
<path d="M510.1,139.5 L563,120 L615.6,153.8 L631.8,157.3 L642,184 L653.3,194.5 L658.5,194 L660.6,220.5 L663,233 L665.9,241.7 L668.1,249.6 L668.8,251.8 L669.8,244.6 L669.2,238.1 L669.2,221.5 L669.5,151.1 L669.9,128.3 L670.3,136.6 L671.1,107.7 L673.7,122.2 L676.4,109.8 L679.3,104.4 L684.4,124.7 L689.4,136 L700.2,122.8 L715.5,100.8 L732.2,107.2" fill="none" stroke="#000" stroke-width="1.5" stroke-dasharray="3.5,2.2"/>
<circle cx="510.1" cy="139.5" r="3.5" fill="#000"/>
<circle cx="563" cy="120" r="3.5" fill="#000"/>
<circle cx="615.6" cy="153.8" r="3.5" fill="#000"/>
<circle cx="631.8" cy="157.3" r="3.5" fill="#000"/>
<circle cx="642" cy="184" r="3.5" fill="#000"/>
<circle cx="653.3" cy="194.5" r="3.5" fill="#000"/>
<circle cx="658.5" cy="194" r="3.5" fill="#000"/>
<circle cx="660.6" cy="220.5" r="3.5" fill="#000"/>
<circle cx="663" cy="233" r="3.5" fill="#000"/>
<circle cx="665.9" cy="241.7" r="3.5" fill="#000"/>
<circle cx="668.1" cy="249.6" r="3.5" fill="#000"/>
<circle cx="668.8" cy="251.8" r="3.5" fill="#000"/>
<circle cx="669.8" cy="244.6" r="3.5" fill="#000"/>
<circle cx="669.2" cy="238.1" r="3.5" fill="#000"/>
<circle cx="669.2" cy="221.5" r="3.5" fill="#000"/>
<circle cx="669.5" cy="151.1" r="3.5" fill="#000"/>
<circle cx="669.9" cy="128.3" r="3.5" fill="#000"/>
<circle cx="670.3" cy="136.6" r="3.5" fill="#000"/>
<circle cx="671.1" cy="107.7" r="3.5" fill="#000"/>
<circle cx="673.7" cy="122.2" r="3.5" fill="#000"/>
<circle cx="676.4" cy="109.8" r="3.5" fill="#000"/>
<circle cx="679.3" cy="104.4" r="3.5" fill="#000"/>
<circle cx="684.4" cy="124.7" r="3.5" fill="#000"/>
<circle cx="689.4" cy="136" r="3.5" fill="#000"/>
<circle cx="700.2" cy="122.8" r="3.5" fill="#000"/>
<circle cx="715.5" cy="100.8" r="3.5" fill="#000"/>
<circle cx="732.2" cy="107.2" r="3.5" fill="#000"/>
<path d="M509.1,129.22 L510.3,129.25 L511.5,129.27 L512.7,129.30 L513.9,129.33 L515.1,129.36 L516.3,129.39 L517.5,129.42 L518.7,129.45 L519.9,129.48 L521.1,129.52 L522.3,129.56 L523.5,129.60 L524.7,129.64 L525.9,129.68 L527.1,129.72 L528.3,129.76 L529.5,129.81 L530.7,129.86 L531.9,129.91 L533.1,129.96 L534.3,130.02 L535.5,130.07 L536.7,130.13 L537.9,130.19 L539.1,130.26 L540.3,130.32 L541.5,130.39 L542.7,130.46 L543.9,130.54 L545.1,130.62 L546.3,130.70 L547.5,130.78 L548.7,130.87 L549.9,130.96 L551.1,131.05 L552.3,131.15 L553.5,131.25 L554.7,131.36 L555.9,131.47 L557.1,131.58 L558.3,131.70 L559.5,131.83 L560.7,131.96 L561.9,132.09 L563.1,132.23 L564.3,132.38 L565.5,132.53 L566.7,132.68 L567.9,132.85 L569.1,133.02 L570.3,133.19 L571.5,133.38 L572.7,133.57 L573.9,133.77 L575.1,133.97 L576.3,134.19 L577.5,134.41 L578.7,134.64 L579.9,134.89 L581.1,135.14 L582.3,135.40 L583.5,135.67 L584.7,135.95 L585.9,136.25 L587.1,136.55 L588.3,136.87 L589.5,137.20 L590.7,137.55 L591.9,137.90 L593.1,138.28 L594.3,138.66 L595.5,139.07 L596.7,139.48 L597.9,139.92 L599.1,140.37 L600.3,140.84 L601.5,141.33 L602.7,141.84 L603.9,142.37 L605.1,142.92 L606.3,143.50 L607.5,144.09 L608.7,144.71 L609.9,145.36 L611.1,146.03 L612.3,146.72 L613.5,147.45 L614.7,148.20 L615.9,148.99 L617.1,149.80 L618.3,150.65 L619.5,151.53 L620.7,152.45 L621.9,153.40 L623.1,154.39 L624.3,155.42 L625.5,156.50 L626.7,157.61 L627.9,158.77 L629.1,159.98 L630.3,161.24 L631.5,162.54 L632.7,163.90 L633.9,165.31 L635.1,166.78 L636.3,168.30 L637.5,169.89 L638.7,171.54 L639.9,173.26 L641.1,175.05 L642.3,176.91 L643.5,178.84 L644.7,180.85 L645.9,182.94 L647.1,185.11 L648.3,187.37 L649.5,189.72 L650.7,192.16 L651.9,194.71 L653.1,197.35 L654.3,200.10 L655.5,202.96 L656.7,205.93 L657.9,209.03 L659.1,212.24 L660.3,215.59 L661.5,219.07 L662.7,222.69 L663.9,226.45 L665.1,230.36 L666.3,234.43 L667.5,238.67 L668.7,243.07 L669.5,246.10" fill="none" stroke="#f00" stroke-width="1.9"/>
</svg></body></html>
